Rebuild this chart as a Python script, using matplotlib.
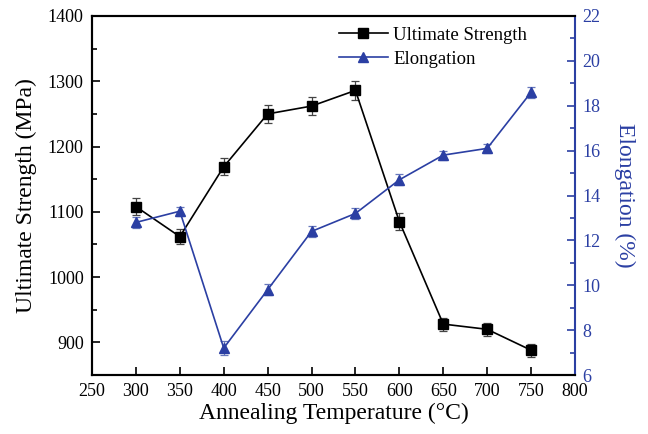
import matplotlib
matplotlib.use("Agg")
import matplotlib.pyplot as plt
from matplotlib.ticker import MultipleLocator
from matplotlib.lines import Line2D

temps = [300, 350, 400, 450, 500, 550, 600, 650, 700, 750]
strength = [1108, 1062, 1169, 1250, 1262, 1286, 1085, 928, 920, 888]
strength_err = [13, 12, 13, 14, 14, 15, 13, 10, 10, 10]
elong = [12.8, 13.3, 7.2, 9.8, 12.4, 13.2, 14.7, 15.8, 16.1, 18.6]
elong_err = [0.25, 0.2, 0.3, 0.25, 0.25, 0.25, 0.25, 0.2, 0.2, 0.25]

blue = "#2b3fa3"
plt.rcParams['font.family'] = ['Liberation Serif', 'DejaVu Serif']

fig = plt.figure(figsize=(6.48, 4.34), dpi=100)
ax = fig.add_axes([92/648, 1-375/434, (575-92)/648, (375-16)/434])
ax2 = ax.twinx()

ax.errorbar(temps, strength, yerr=strength_err, color='black', marker='s', ms=6.5,
            lw=1.2, ecolor='#444444', elinewidth=0.9, capsize=3, capthick=0.9)
ax2.errorbar(temps, elong, yerr=elong_err, color=blue, marker='^', ms=7.5,
             lw=1.2, ecolor='#6677bb', elinewidth=0.9, capsize=3, capthick=0.9)

ax.set_xlim(250, 800)
ax.set_ylim(850, 1400)
ax2.set_ylim(6, 22)

ax.xaxis.set_major_locator(MultipleLocator(50))
ax.set_yticks([900, 1000, 1100, 1200, 1300, 1400])
ax.yaxis.set_minor_locator(MultipleLocator(50))
ax2.yaxis.set_major_locator(MultipleLocator(2))
ax2.yaxis.set_minor_locator(MultipleLocator(1))

ax.tick_params(axis='both', which='major', direction='in', length=6, width=1.2, labelsize=13)
ax.tick_params(axis='y', which='minor', direction='in', length=3.5, width=1.2)
ax.tick_params(axis='x', which='major', pad=6)
ax.tick_params(axis='y', which='major', pad=6)
ax2.tick_params(axis='y', which='major', direction='in', length=6, width=1.2,
                labelsize=13, colors=blue, pad=5)
ax2.tick_params(axis='y', which='minor', direction='in', length=3.5, width=1.2, colors=blue)

for s in ['left', 'bottom', 'top']:
    ax.spines[s].set_linewidth(1.5)
    ax2.spines[s].set_linewidth(1.5)
ax2.spines['right'].set_color(blue)
ax2.spines['right'].set_linewidth(1.5)
ax.spines['right'].set_visible(False)

ax.set_xlabel('Annealing Temperature (°C)', fontsize=17, labelpad=2)
ax.set_ylabel('Ultimate Strength (MPa)', fontsize=17, labelpad=8)
ax2.set_ylabel('Elongation (%)', fontsize=17, color=blue, rotation=270, labelpad=25)

h1 = Line2D([], [], color='black', marker='s', ms=6.5, lw=1.2)
h2 = Line2D([], [], color=blue, marker='^', ms=7.5, lw=1.2)
ax.legend([h1, h2], ['Ultimate Strength', 'Elongation'], loc='upper right',
          bbox_to_anchor=(0.936, 1.017), frameon=False, fontsize=13.5, handlelength=2.6,
          handletextpad=0.3, labelspacing=0.35)
fig.savefig('out.png', dpi=100)
